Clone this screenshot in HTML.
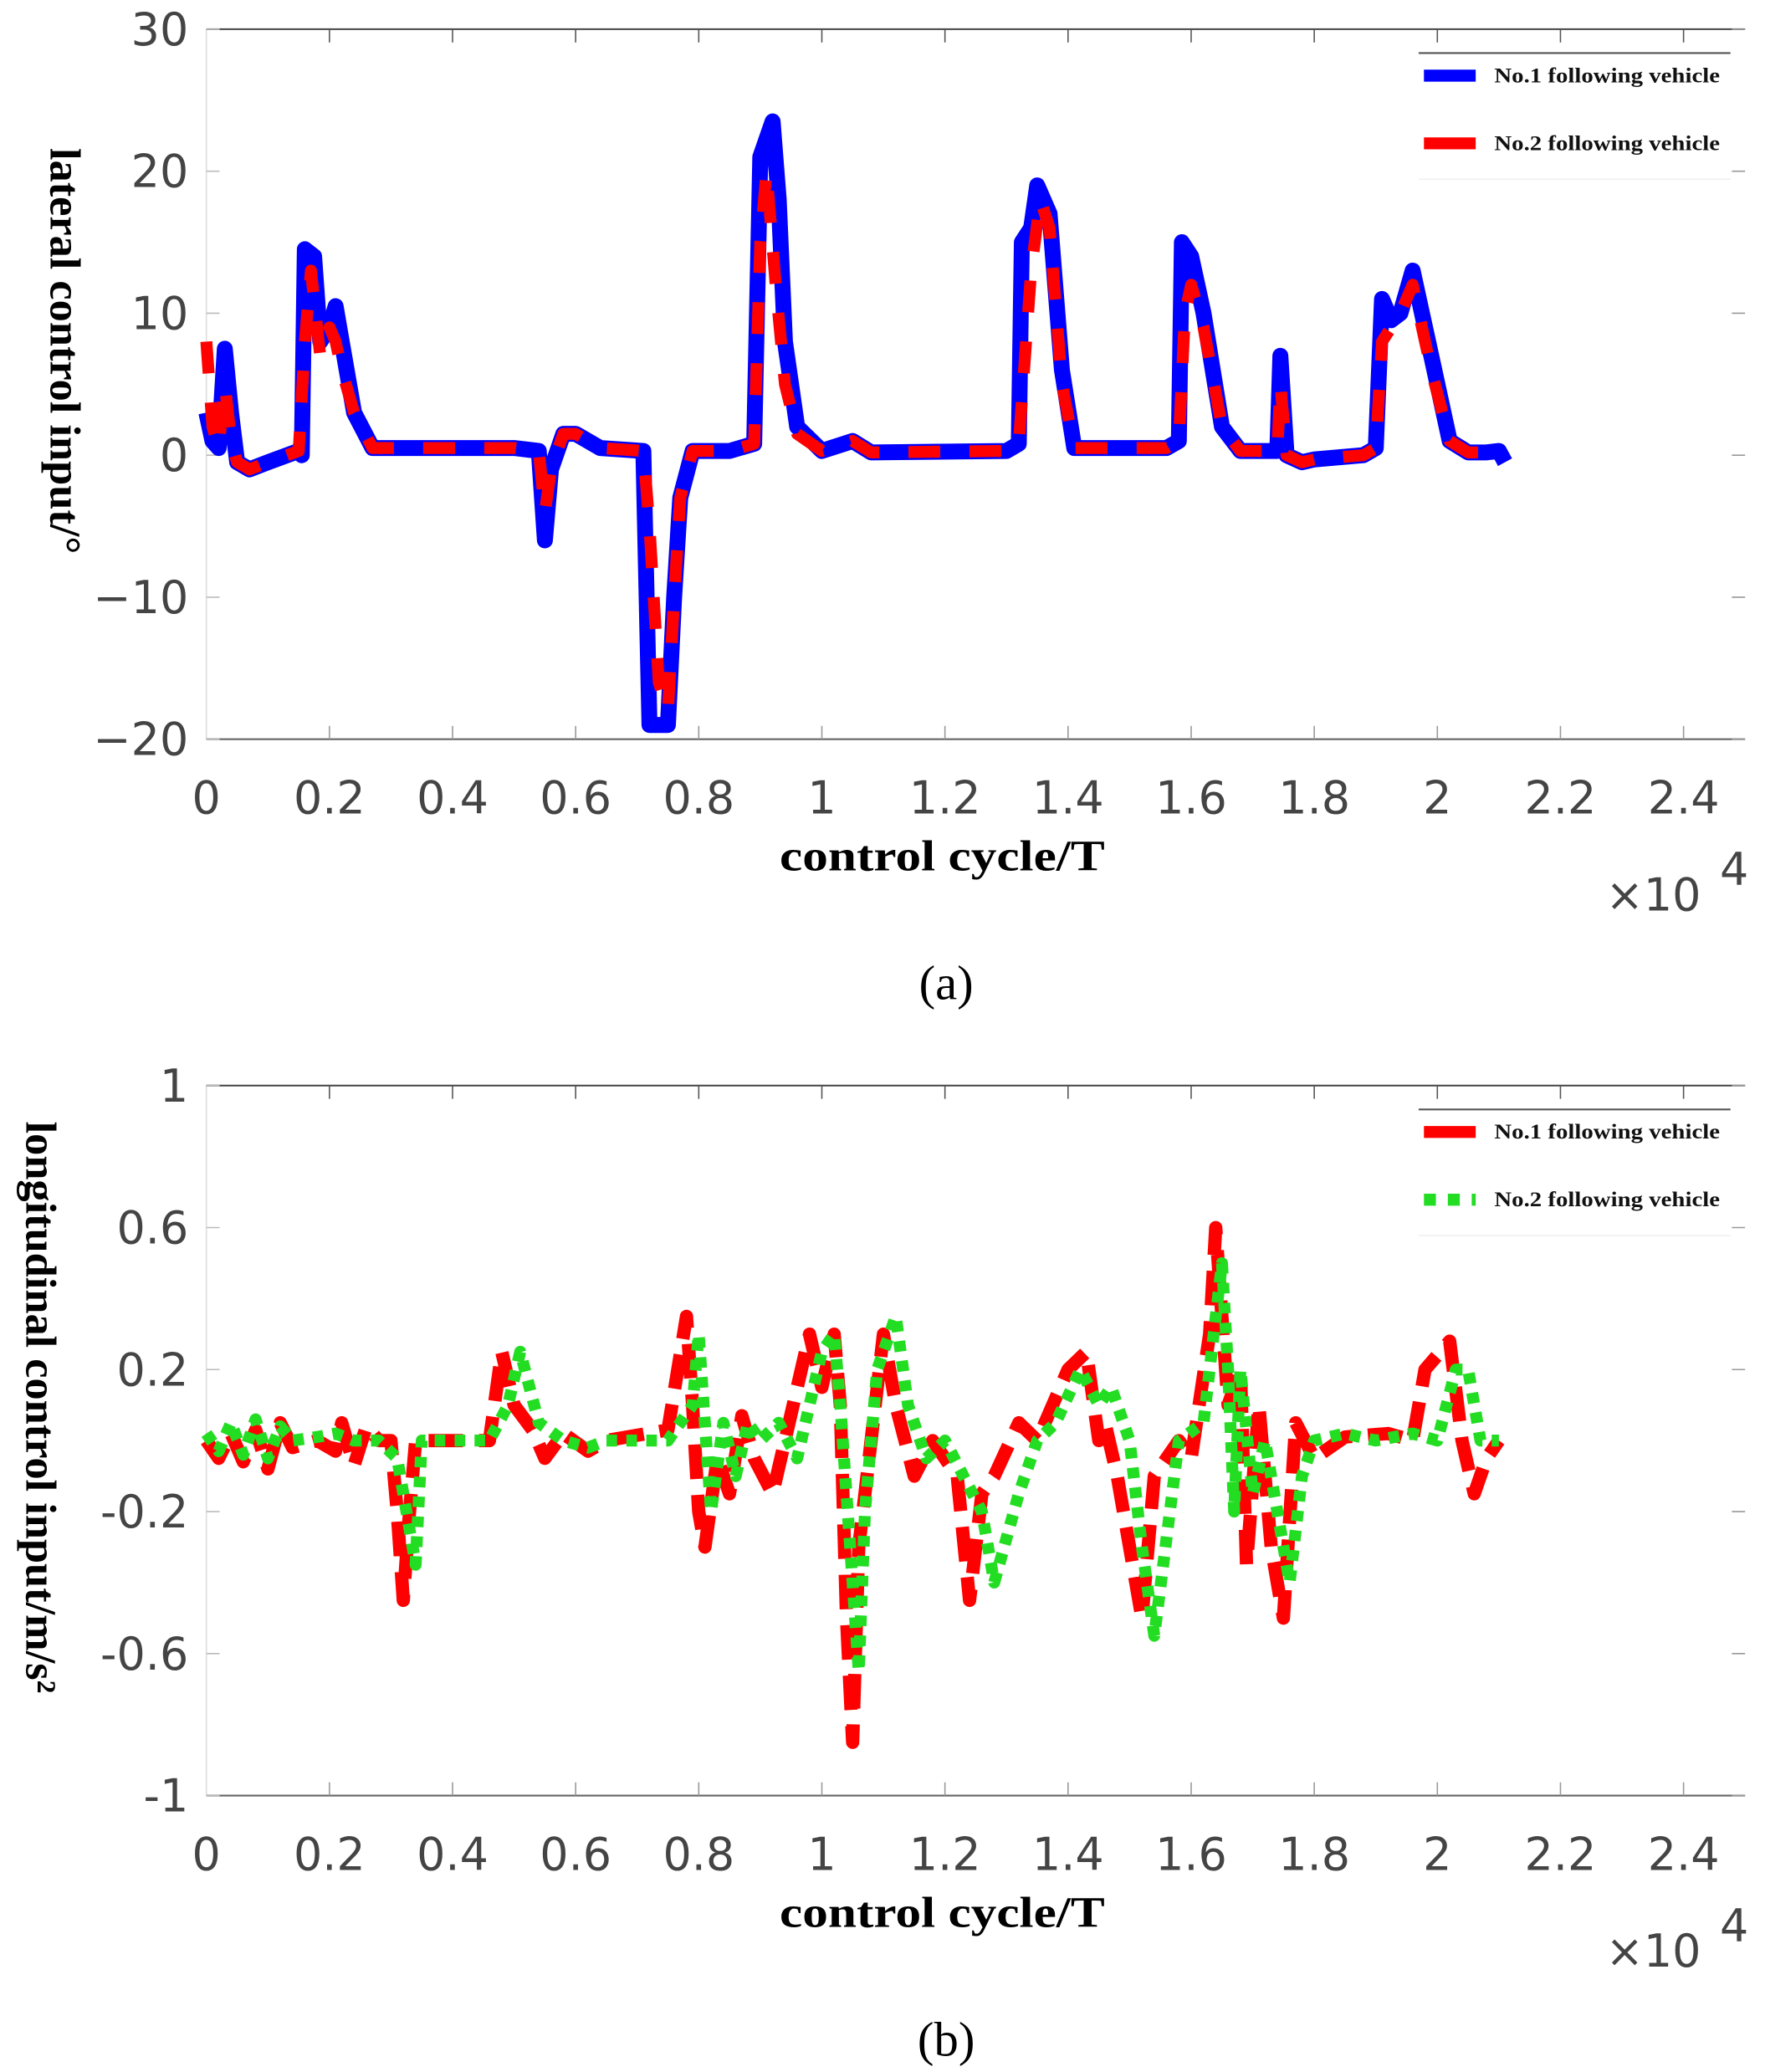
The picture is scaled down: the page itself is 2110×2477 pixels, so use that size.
<!DOCTYPE html>
<html><head><meta charset="utf-8">
<style>
html,body{margin:0;padding:0;background:#fff;}
svg{display:block;}
.tk{font-family:"DejaVu Sans","Liberation Sans",sans-serif;font-size:34px;fill:#444;}
.al{font-family:"Liberation Serif",serif;font-weight:bold;font-size:33px;fill:#000;}
.lg{font-family:"Liberation Serif",serif;font-weight:bold;font-size:16px;fill:#111;}
.cap{font-family:"Liberation Serif",serif;font-size:37px;fill:#000;}
</style></head>
<body>
<svg id="fig" width="2110" height="2477" viewBox="0 0 1330 1561.3" preserveAspectRatio="none" xmlns="http://www.w3.org/2000/svg">
<g id="chartA"></g>
<g id="chartB"></g>
</svg>
<script>
// ---- data (x in units of 1e4 control cycles) ----
const xTicks = [0,0.2,0.4,0.6,0.8,1,1.2,1.4,1.6,1.8,2,2.2,2.4];
const xTickLabels = ["0","0.2","0.4","0.6","0.8","1","1.2","1.4","1.6","1.8","2","2.2","2.4"];
const yTicksA = [30,20,10,0,-10,-20];
const yTickLabelsA = ["30","20","10","0","\u221210","\u221220"];
const yTicksB = [1,0.6,0.2,-0.2,-0.6,-1];
const yTickLabelsB = ["1","0.6","0.2","-0.2","-0.6","-1"];

const latX1 = [0,0.01,0.02,0.03,0.04,0.05,0.07,0.1,0.15,0.155,0.16,0.175,0.185,0.2,0.21,0.22,0.24,0.27,0.3,0.5,0.54,0.55,0.56,0.58,0.6,0.64,0.71,0.72,0.74,0.75,0.76,0.77,0.79,0.85,0.89,0.9,0.92,0.93,0.94,0.96,1.0,1.05,1.08,1.3,1.32,1.325,1.34,1.35,1.37,1.39,1.41,1.56,1.58,1.585,1.6,1.62,1.65,1.68,1.74,1.745,1.755,1.78,1.8,1.88,1.9,1.91,1.925,1.94,1.96,1.99,2.02,2.05,2.08,2.1,2.11];
const latY1 = [3,1,0.5,7.5,3,-0.5,-1,-0.5,0.3,0,14.5,14,8,9,10.5,8,3,0.5,0.5,0.5,0.3,-6,-1,1.5,1.5,0.5,0.3,-19,-19,-19,-10,-3,0.3,0.3,0.8,21,23.5,18,8,2,0.3,1,0.2,0.3,0.8,15,16,19,17,6,0.5,0.5,1,15,14,10,2,0.3,0.3,7,0,-0.5,-0.3,0,0.5,11,9.5,10,13,7,1,0.2,0.2,0.3,-0.5];
const latX2 = [0,0.01,0.02,0.03,0.04,0.05,0.07,0.1,0.15,0.16,0.17,0.185,0.2,0.21,0.22,0.24,0.27,0.3,0.5,0.54,0.55,0.56,0.58,0.6,0.64,0.71,0.72,0.735,0.75,0.76,0.77,0.79,0.85,0.89,0.9,0.91,0.925,0.94,0.96,1.0,1.05,1.08,1.3,1.32,1.34,1.355,1.37,1.39,1.41,1.56,1.58,1.59,1.6,1.62,1.65,1.68,1.74,1.745,1.755,1.78,1.8,1.88,1.9,1.91,1.94,1.96,1.99,2.02,2.05,2.08];
const latY2 = [8,2,0.5,5,1,-0.5,-1,-0.5,0.3,8,13,7,9,8,6,3,0.5,0.5,0.5,0.3,-4,-1,1.5,1.5,0.5,0.3,-5,-16,-18,-10,-3,0.3,0.3,0.8,15,20,12,5,1.5,0.3,1,0.2,0.3,0.8,13,18,16,5,0.5,0.5,1,10,12,9,2,0.3,0.3,5,0,-0.5,-0.3,0,0.5,8,10,12,6,1,0.2,0.2];

const lonX1 = [0,0.02,0.04,0.06,0.08,0.1,0.12,0.14,0.18,0.21,0.22,0.24,0.26,0.28,0.3,0.31,0.32,0.33,0.34,0.46,0.48,0.5,0.53,0.55,0.58,0.62,0.65,0.75,0.78,0.79,0.8,0.81,0.83,0.85,0.87,0.89,0.92,0.94,0.98,1.0,1.02,1.03,1.04,1.05,1.06,1.08,1.1,1.12,1.15,1.18,1.22,1.24,1.26,1.28,1.32,1.35,1.4,1.43,1.45,1.46,1.48,1.5,1.52,1.54,1.58,1.6,1.63,1.64,1.66,1.68,1.69,1.71,1.73,1.75,1.77,1.8,1.85,1.92,1.96,1.98,2.02,2.04,2.06,2.08,2.1];
const lonY1 = [0,-0.05,0.02,-0.06,0.03,-0.08,0.05,-0.02,0,-0.03,0.05,-0.07,0.04,0,0,-0.2,-0.45,-0.2,0,0,0.25,0.1,0.03,-0.05,0.02,-0.03,0,0.03,0.35,0.1,-0.2,-0.3,-0.05,-0.15,0.07,-0.05,-0.15,0,0.3,0.15,0.3,0.1,-0.5,-0.85,-0.3,0,0.3,0.1,-0.1,0,-0.1,-0.45,-0.15,-0.1,0.05,0,0.2,0.25,0,0.05,-0.1,-0.3,-0.5,-0.1,0,-0.05,0.3,0.6,0.1,0.2,-0.35,0.1,-0.3,-0.5,0.05,-0.05,0.01,0.02,0,0.2,0.28,0,-0.15,-0.05,0];
const lonX2 = [0,0.02,0.04,0.06,0.08,0.1,0.12,0.14,0.18,0.21,0.24,0.28,0.31,0.33,0.34,0.35,0.46,0.49,0.51,0.54,0.58,0.62,0.65,0.75,0.79,0.8,0.82,0.84,0.86,0.88,0.9,0.93,0.96,1.0,1.02,1.03,1.05,1.06,1.07,1.09,1.12,1.14,1.17,1.2,1.23,1.26,1.28,1.32,1.35,1.38,1.42,1.45,1.47,1.5,1.52,1.54,1.58,1.62,1.64,1.65,1.66,1.67,1.68,1.7,1.72,1.74,1.76,1.78,1.8,1.85,1.9,1.96,2.0,2.03,2.05,2.07,2.1];
const lonY2 = [0.02,-0.03,0.05,-0.04,0.06,-0.05,0.04,0,0.01,0.02,0,0,-0.05,-0.25,-0.35,0,0,0.1,0.25,0.05,0,-0.02,0,0,0.1,0.3,-0.2,0.05,-0.1,0.05,0,0.05,-0.05,0.25,0.3,0.1,-0.4,-0.65,-0.2,0.2,0.35,0.1,-0.05,0,-0.1,-0.2,-0.4,-0.15,0,0.05,0.2,0.1,0.15,0,-0.3,-0.55,0,0.05,0.35,0.5,0.2,-0.2,0.2,-0.15,0,-0.2,-0.4,-0.1,0,0.02,0,0.02,0,0.2,0.2,0,0];

const NS = "http://www.w3.org/2000/svg";
function mk(parent, tag, attrs, text){
  const e = document.createElementNS(NS, tag);
  for (const k in attrs) e.setAttribute(k, attrs[k]);
  if (text !== undefined) e.textContent = text;
  parent.appendChild(e);
  return e;
}

function drawChart(g, o){
  const L=155.5, R=1315, T=o.top, B=o.top+535;
  const sx = v => L + v/2.5*(R-L);
  const sy = v => T + (o.ymax - v)/(o.ymax-o.ymin)*(B-T);
  const la = mk(g,'line',{x1:L,y1:T,x2:L,y2:B,stroke:'#ddd','stroke-width':1});
  
  
  const tl = mk(g,'line',{x1:L,y1:T,x2:R,y2:T,stroke:'#444','stroke-width':1.3});
  
  
  const bl = mk(g,'line',{x1:L,y1:B,x2:R,y2:B,stroke:'#666','stroke-width':1.3});
  
  
  xTicks.forEach((t,i)=>{
    const x = sx(t);
    if (i>0){
      mk(g,'line',{x1:x,y1:T,x2:x,y2:T+10,stroke:'#555','stroke-width':1});
      mk(g,'line',{x1:x,y1:B,x2:x,y2:B-10,stroke:'#999','stroke-width':1});
    }
    const tx = mk(g,'text',{x:x,y:B+56,'text-anchor':'middle',class:'tk'},xTickLabels[i]);
    
    
  });
  o.yTicks.forEach((t,i)=>{
    const y = sy(t);
    mk(g,'line',{x1:L,y1:y,x2:L+10,y2:y,stroke:'#bbb','stroke-width':1});
    mk(g,'line',{x1:R,y1:y,x2:R-10,y2:y,stroke:'#999','stroke-width':1});
    const ty = mk(g,'text',{x:142,y:y+12,'text-anchor':'end',class:'tk'},o.yLabels[i]);
    
    
  });
  o.series.forEach(s=>{
    const d = s.x.map((v,i)=>(i?'L':'M')+sx(v).toFixed(1)+','+sy(s.y[i]).toFixed(1)).join(' ');
    const p = mk(g,'path',{d:d,fill:'none',stroke:s.color,'stroke-width':s.w,'stroke-linejoin':'round','stroke-dasharray':s.dash||'none'});
    
    
  });
  const lg = mk(g,'g',{});
  
  
  mk(lg,'line',{x1:1069,y1:T+18,x2:1304,y2:T+18,stroke:'#555','stroke-width':1.3});
  mk(lg,'line',{x1:1069,y1:T+113,x2:1304,y2:T+113,stroke:'#f0f0f0','stroke-width':1});
  o.legend.forEach((e,i)=>{
    const y = T+35+i*51;
    mk(lg,'line',{x1:1073,y1:y,x2:1112,y2:y,stroke:e.color,'stroke-width':9,'stroke-dasharray':e.dash||'none'});
    const t = mk(lg,'text',{x:1126,y:y+5,class:'lg',textLength:170,lengthAdjust:'spacingAndGlyphs'},e.label);
    
    
  });
  const xt = mk(g,'text',{x:710,y:B+99,'text-anchor':'middle',class:'al',textLength:245,lengthAdjust:'spacingAndGlyphs'},'control cycle/T');
  
  
  const yt = mk(g,'text',{x:0,y:0,'text-anchor':'middle',class:'al',transform:`translate(${o.ylx},${(T+B)/2-25}) rotate(90)`,'font-size':o.ylfs},o.ylabel);
  
  
  const ex = mk(g,'text',{x:1210,y:B+129,class:'tk','font-size':'38'},'\u00d710');
  
  
  mk(g,'text',{x:1296,y:B+110,class:'tk','font-size':'26'},'4');
  const cp = mk(g,'text',{x:713,y:B+196,'text-anchor':'middle',class:'cap'},o.caption);
  
  
}

drawChart(document.getElementById('chartA'),{
  top:22, ymax:30, ymin:-20, yTicks:yTicksA, yLabels:yTickLabelsA,
  ylabel:'lateral control input/\u00b0', ylx:38, ylfs:29, caption:'(a)',
  series:[
    {name:'series-no1-lateral',x:latX1,y:latY1,color:'#0000ff',w:12},
    {name:'series-no2-lateral',x:latX2,y:latY2,color:'#ff0000',w:9,dash:'24 22'}
  ],
  legend:[{color:'#0000ff',label:'No.1 following vehicle'},{color:'#ff0000',label:'No.2 following vehicle'}]
});
drawChart(document.getElementById('chartB'),{
  top:818, ymax:1, ymin:-1, yTicks:yTicksB, yLabels:yTickLabelsB,
  ylabel:'longitudinal control input/m/s\u00b2', ylx:20, ylfs:28, caption:'(b)',
  series:[
    {name:'series-no1-longitudinal',x:lonX1,y:lonY1,color:'#ff0000',w:10,dash:'26 12'},
    {name:'series-no2-longitudinal',x:lonX2,y:lonY2,color:'#22dd22',w:9,dash:'8 7'}
  ],
  legend:[{color:'#ff0000',label:'No.1 following vehicle'},{color:'#22dd22',label:'No.2 following vehicle',dash:'9 9'}]
});
</script>
</body></html>
